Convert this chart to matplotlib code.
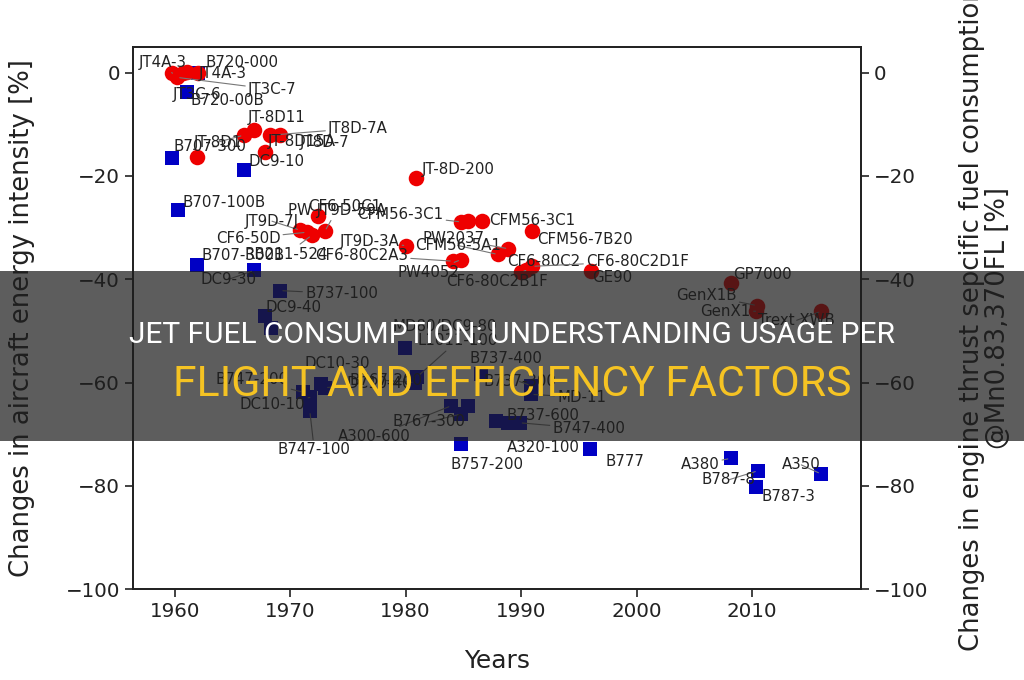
import matplotlib
matplotlib.use("Agg")
import matplotlib.pyplot as plt
from matplotlib.patches import Rectangle

# ---------------- data ----------------
engine_names = ["JT4A-3", "JT3C-7", "JT3C-6", "", "JT4A-3",
                "JT-8D1", "JT-8D11", "JT8D-7A", "JT8D-7", "JT-8D15A", "",
                "JT-8D-200", "CF6-50C1", "JT9D-7J", "CF6-50D", "RB211-524", "PW JT9D-59A",
                "JT9D-3A", "CF6-80C2A3", "PW4052", "CFM56-5A1", "PW2037",
                "CFM56-3C1", "", "CFM56-3C1", "CFM56-7B20",
                "CF6-80C2", "CF6-80C2D1F", "CF6-80C2B1F", "GE90",
                "GP7000", "GenX1B", "GenX1", "Trext XWB"]
engine_years = [1959.8, 1960.2, 1960.75, 1961.1, 1962.05,
                1965.96, 1966.88, 1968.26, 1969.13, 1967.83, 1961.93,
                1980.93, 1972.43, 1970.85, 1971.43, 1971.86, 1973.0,
                1980.07, 1984.1, 1984.8, 1987.98, 1988.9,
                1984.82, 1985.39, 1986.63, 1990.95,
                1990.0, 1990.95, 1990.4, 1996.05,
                2008.13, 2010.43, 2010.3, 2015.99]
engine_values = [-0.1, -0.9, 0.0, 0.1, 0.0,
                 -12.1, -11.0, -12.1, -12.0, -15.3, -16.3,
                 -20.3, -27.8, -30.5, -30.9, -31.5, -30.7,
                 -33.5, -36.5, -36.2, -35.2, -34.1,
                 -28.9, -28.7, -28.7, -30.7,
                 -38.5, -37.5, -38.3, -38.4,
                 -40.8, -45.1, -46.2, -46.2]

aircraft_names = ["B720-000", "B720-00B", "B707-300", "DC9-10", "B707-100B",
                  "B707-300B", "DC9-30", "B737-100", "DC9-40", "",
                  "MD80/DC9-80", "L1011-100", "B767-200", "DC10-30", "DC10-40",
                  "B747-200", "DC10-10", "B747-100",
                  "B737-400", "B737-300", "MD-11",
                  "A300-600", "", "B767-300",
                  "B737-600", "A320-100", "B747-400",
                  "B757-200", "B777", "A380", "B787-8", "B787-3", "A350"]
aircraft_years = [1962.05, 1961.1, 1959.8, 1965.96, 1960.3,
                  1961.93, 1966.88, 1969.13, 1967.83, 1968.3,
                  1979.9, 1981.0, 1980.8, 1972.7, 1973.0,
                  1971.15, 1971.7, 1971.7,
                  1986.55, 1990.87, 1990.87,
                  1983.96, 1985.4, 1984.8,
                  1987.84, 1988.85, 1989.86,
                  1984.82, 1995.96, 2008.13, 2010.5, 2010.3, 2015.96]
aircraft_values = [0.0, -3.7, -16.6, -18.9, -26.5,
                   -37.3, -38.3, -42.2, -47.2, -49.4,
                   -53.3, -58.9, -60.0, -60.3, -61.0,
                   -61.9, -62.9, -65.5,
                   -58.4, -60.6, -62.3,
                   -64.5, -64.5, -66.1,
                   -67.5, -67.8, -67.8,
                   -72.0, -72.9, -74.7, -77.1, -80.3, -77.7]

x_ticks = [1960, 1970, 1980, 1990, 2000, 2010]
y_ticks = [0, -20, -40, -60, -80, -100]

# ---------------- label layout (pixel offsets from marker) ----------------
engine_offsets = [(-34, 11), (71, -12), (-11, -22), (0, 0), (0, -1),
                  (-50, -7), (-6, 12), (58, 7), (20, -8), (3, 10), (0, 0),
                  (5, 8), (-10, 10), (-55, 9), (-91, -6), (-67, -19), (-37, 21),
                  (-67, 4), (-138, 6), (-64, -13), (-83, 9), (-86, 10),
                  (-104, 7), (0, 0), (7, 0), (5, -8),
                  (-14, 10), (54, 5), (-80, -11), (1, -7),
                  (3, 9), (-81, 10), (-55, 0), (-63, -9)]
aircraft_offsets = [(7, 10), (3, -9), (1, 12), (5, 9), (4, 7),
                    (5, 10), (-54, -9), (25, -3), (0, 9), (0, 0),
                    (-12, 21), (0, 36), (-65, 2), (-17, 21), (22, 4),
                    (-88, 13), (-70, -7), (-32, -39),
                    (-12, 16), (-48, 4), (26, -3),
                    (-114, -31), (0, 0), (-69, -8),
                    (10, 6), (-1, -25), (33, -6),
                    (-11, -20), (16, -12), (-50, -6), (-56, -9), (6, -9), (-39, 9)]

RED = "#ee0000"
BLUE = "#0000c4"
INK = "#222222"

fig = plt.figure(figsize=(10.24, 6.8), dpi=100)
ax = fig.add_axes([0.130, 0.1338, 0.7105, 0.7972])

ax.scatter(aircraft_years, aircraft_values, marker="s", s=105, color=BLUE, zorder=3, linewidths=0)
ax.scatter(engine_years, engine_values, marker="o", s=125, color=RED, zorder=4, linewidths=0)


def annotate(names, xs, ys, offs):
    for n, x, y, (dx, dy) in zip(names, xs, ys, offs):
        if not n:
            continue
        far = (dx * dx + dy * dy) ** 0.5 > 28 or dx > 20 or dx < -30
        ax.annotate(n, (x, y), xytext=(dx, dy), textcoords="offset pixels",
                    ha="left", va="center", fontsize=10.8, color=INK, zorder=5,
                    arrowprops=dict(arrowstyle="-", color="#777777", lw=0.8,
                                    shrinkA=0, shrinkB=2) if far else None)


annotate(engine_names, engine_years, engine_values, engine_offsets)
annotate(aircraft_names, aircraft_years, aircraft_values, aircraft_offsets)

ax.set_xlim(1956.4, 2019.4)
ax.set_ylim(-100, 5)
ax.set_xticks(x_ticks)
ax.set_yticks(y_ticks)
ax.tick_params(labelsize=14.3, length=6, width=1.2, color=INK, labelcolor=INK)
for sp in ax.spines.values():
    sp.set_linewidth(1.3)
    sp.set_color(INK)
ax.set_xlabel("Years", fontsize=18, labelpad=20, color=INK)
ax.set_ylabel("Changes in aircraft energy intensity [%]", fontsize=18.6, labelpad=22, color=INK)

ax2 = ax.twinx()
ax2.set_ylim(-100, 5)
ax2.set_yticks(y_ticks)
ax2.tick_params(labelsize=14.3, length=6, width=1.2, color=INK, labelcolor=INK)
for sp in ax2.spines.values():
    sp.set_linewidth(1.3)
    sp.set_color(INK)
ax2.set_ylabel("Changes in engine thrust sepcific fuel consumption\n@Mn0.83,370FL [%]",
               fontsize=18.6, labelpad=22, color=INK, linespacing=1.0)

# banner overlay
fig.patches.append(Rectangle((0, 1 - 441 / 680), 1, 170 / 680, transform=fig.transFigure,
                             facecolor="#1e1e1e", alpha=0.72, edgecolor="none", zorder=10))
fig.text(0.5, 1 - 335 / 680, "JET FUEL CONSUMPTION: UNDERSTANDING USAGE PER",
         ha="center", va="center", color="white", fontsize=21.5, family="Roboto", zorder=11)
fig.text(0.5, 1 - 385 / 680, "FLIGHT AND EFFICIENCY FACTORS",
         ha="center", va="center", color="#f5c323", fontsize=30.8, family="Roboto", zorder=11)

fig.savefig("out.png", dpi=100)
